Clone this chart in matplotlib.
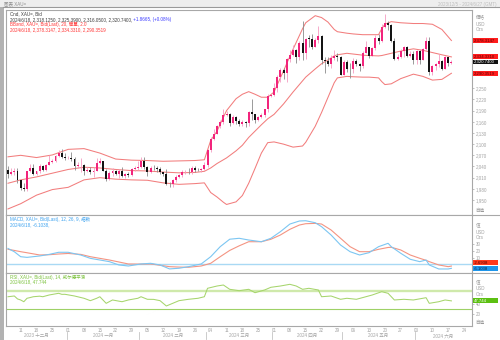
import matplotlib
matplotlib.use("Agg")
import matplotlib.pyplot as plt
import numpy as np
import pandas as pd
from matplotlib.lines import Line2D
from matplotlib.patches import Rectangle
import matplotlib.transforms as mtransforms

plt.rcParams["font.family"] = ["Liberation Sans", "Noto Sans CJK TC", "DejaVu Sans"]

# ---- XAU= daily bars, one per weekday ----
FIRST_DAY, LAST_BAR, LAST_DAY = "2023-12-05", "2024-06-18", "2024-06-27"

open_ = [
    2030, 2019, 2025, 2028,
    2004, 1982, 1979, 2027, 2036,
    2019, 2027, 2040, 2031, 2045,
    2053, 2054, 2067, 2077, 2065,
    2063, 2064, 2060, 2042, 2043,
    2045, 2028, 2030, 2024, 2029,
    2049, 2055, 2028, 2006, 2023,
    2029, 2021, 2029, 2014, 2021,
    2018, 2032, 2037, 2039, 2054,
    2039, 2025, 2035, 2035, 2034,
    2024, 2020, 1993, 1992, 2004,
    2013, 2018, 2024, 2026, 2024,
    2036, 2031, 2030, 2034, 2044,
    2083, 2114, 2128, 2148, 2160,
    2179, 2182, 2158, 2174, 2162,
    2155, 2160, 2157, 2186, 2181,
    2165, 2172, 2178, 2194, 2230,
    2233, 2250, 2280, 2300, 2290,
    2329, 2339, 2352, 2333, 2372,
    2344, 2383, 2383, 2361, 2379,
    2391, 2327, 2322, 2316, 2332,
    2337, 2335, 2286, 2320, 2303,
    2301, 2323, 2314, 2309, 2346,
    2360, 2336, 2358, 2386, 2376,
    2415, 2425, 2420, 2378, 2329,
    2334, 2350, 2361, 2338, 2343,
    2327, 2350, 2327, 2355, 2376,
    2293, 2311, 2316, 2324, 2303,
    2333, 2318.125,
]
high = [
    2040, 2037, 2035, 2036,
    2005, 1995, 2028, 2047, 2047,
    2029, 2047, 2043, 2048, 2071,
    2059, 2070, 2084, 2088, 2075,
    2067, 2079, 2065, 2051, 2064,
    2046, 2038, 2038, 2039, 2062,
    2062, 2056, 2032, 2028, 2035,
    2030, 2033, 2038, 2023, 2026,
    2036, 2042, 2055, 2065, 2065,
    2040, 2040, 2043, 2040, 2038,
    2026, 2032, 1998, 2006, 2016,
    2020, 2031, 2030, 2035, 2041,
    2040, 2037, 2036, 2052, 2088,
    2120, 2142, 2152, 2165, 2195,
    2189, 2184, 2178, 2175, 2167,
    2165, 2163, 2188, 2222, 2181,
    2175, 2185, 2195, 2235, 2236,
    2265, 2285, 2305, 2305, 2331,
    2354, 2365, 2355, 2378, 2431,
    2386, 2392, 2395, 2385, 2417,
    2393, 2335, 2334, 2339, 2353,
    2346, 2337, 2326, 2326, 2319,
    2331, 2328, 2319, 2351, 2378,
    2361, 2360, 2392, 2396, 2422,
    2450, 2430, 2422, 2385, 2342,
    2355, 2364, 2364, 2351, 2349,
    2354, 2353, 2358, 2388, 2387,
    2313, 2317, 2342, 2327, 2336,
    2334, 2325.39,
]
low = [
    2010, 2016, 2017, 1995,
    1976, 1973, 1973, 2026, 2017,
    2016, 2022, 2028, 2029, 2044,
    2050, 2051, 2065, 2062, 2058,
    2060, 2056, 2031, 2035, 2024,
    2017, 2026, 2021, 2013, 2028,
    2047, 2028, 2002, 2005, 2015,
    2017, 2010, 2012, 2009, 2012,
    2015, 2028, 2031, 2037, 2032,
    2015, 2023, 2030, 2025, 2020,
    2015, 1990, 1984, 1986, 1998,
    2010, 2013, 2020, 2020, 2020,
    2025, 2027, 2025, 2030, 2038,
    2078, 2110, 2126, 2144, 2154,
    2175, 2150, 2155, 2154, 2150,
    2148, 2146, 2150, 2165, 2157,
    2163, 2170, 2172, 2187, 2226,
    2228, 2240, 2268, 2276, 2267,
    2320, 2337, 2319, 2325, 2326,
    2330, 2360, 2355, 2360, 2373,
    2315, 2292, 2310, 2305, 2327,
    2324, 2285, 2285, 2294, 2277,
    2291, 2310, 2297, 2305, 2345,
    2332, 2336, 2354, 2370, 2374,
    2413, 2407, 2374, 2326, 2325,
    2332, 2335, 2334, 2333, 2315,
    2315, 2314, 2326, 2354, 2286,
    2287, 2298, 2308, 2300, 2302,
    2311, 2316.05,
]
close = [
    2019, 2025, 2028, 2004,
    1982, 1979, 2027, 2036, 2019,
    2027, 2040, 2031, 2045, 2053,
    2054, 2067, 2077, 2065, 2063,
    2064, 2060, 2042, 2043, 2045,
    2028, 2030, 2024, 2029, 2049,
    2055, 2028, 2006, 2023, 2029,
    2021, 2029, 2014, 2021, 2018,
    2032, 2037, 2039, 2054, 2039,
    2025, 2035, 2035, 2034, 2024,
    2020, 1993, 1992, 2004, 2013,
    2018, 2024, 2026, 2024, 2036,
    2031, 2030, 2034, 2044, 2083,
    2114, 2128, 2148, 2160, 2179,
    2182, 2158, 2174, 2162, 2155,
    2160, 2157, 2186, 2181, 2165,
    2172, 2178, 2194, 2230, 2233,
    2250, 2280, 2300, 2290, 2329,
    2339, 2352, 2333, 2372, 2344,
    2383, 2383, 2361, 2379, 2391,
    2327, 2322, 2316, 2332, 2337,
    2335, 2286, 2320, 2303, 2301,
    2323, 2314, 2309, 2346, 2360,
    2336, 2358, 2386, 2376, 2415,
    2425, 2420, 2378, 2329, 2334,
    2350, 2361, 2338, 2343, 2327,
    2350, 2327, 2355, 2376, 2293,
    2311, 2316, 2324, 2303, 2333,
    2319, 2320.74,
]

# ---- Bollinger bands (20, 2.0) on selected sessions ----
bb_dates = [
    "2023-12-05", "2023-12-11", "2023-12-18", "2023-12-25",
    "2024-01-01", "2024-01-08", "2024-01-15", "2024-01-22", "2024-01-29",
    "2024-02-05", "2024-02-12", "2024-02-19", "2024-02-26", "2024-02-29",
    "2024-03-04", "2024-03-06", "2024-03-08", "2024-03-11", "2024-03-14",
    "2024-03-18", "2024-03-20", "2024-03-22", "2024-03-26", "2024-03-28",
    "2024-04-01", "2024-04-04", "2024-04-09", "2024-04-12", "2024-04-15",
    "2024-04-18", "2024-04-22", "2024-04-24", "2024-04-26", "2024-04-29",
    "2024-05-02", "2024-05-06", "2024-05-09", "2024-05-13", "2024-05-16",
    "2024-05-17", "2024-05-20", "2024-05-22", "2024-05-27", "2024-05-31",
    "2024-06-05", "2024-06-10", "2024-06-13", "2024-06-18",
]
bb_upper = [
    2066, 2070, 2064, 2071,
    2086, 2088, 2076, 2060, 2057,
    2056, 2054, 2055, 2056, 2058,
    2110, 2135, 2172, 2190, 2222, 2234, 2241, 2234, 2226, 2226,
    2240, 2297, 2355, 2410, 2426, 2445, 2440, 2428, 2408, 2402,
    2398, 2396, 2394, 2394, 2394, 2410, 2422, 2429, 2426, 2424,
    2424, 2422, 2408, 2378.3147,
]
bb_mid = [
    1995, 2004, 2012, 2022,
    2032, 2038, 2036, 2032, 2029,
    2028, 2025, 2023, 2024, 2027,
    2036, 2048, 2058, 2063, 2082, 2097, 2118, 2135, 2152, 2168,
    2180, 2208, 2240, 2270, 2280, 2302, 2316, 2326, 2337, 2340,
    2344, 2342, 2339, 2338, 2337, 2338, 2340, 2344, 2350, 2356,
    2352, 2346, 2340, 2334.3310,
]
bb_lower = [
    1926, 1940, 1963, 1978,
    1984, 2004, 2010, 2006, 2004,
    2003, 1996, 1992, 1994, 1996,
    1970, 1958, 1944, 1938, 1945, 1962, 1995, 2035, 2076, 2104,
    2106, 2100, 2092, 2095, 2105, 2148, 2185, 2225, 2265, 2278,
    2282, 2281, 2280, 2280, 2278, 2268, 2260, 2262, 2276, 2288,
    2282, 2272, 2274, 2290.3519,
]

# ---- MACD (12, 26, 9) ----
macd_dates = [
    "2023-12-05", "2023-12-07", "2023-12-11", "2023-12-13", "2023-12-19", "2023-12-22", "2023-12-27",
    "2024-01-01", "2024-01-05", "2024-01-10", "2024-01-15", "2024-01-18", "2024-01-23", "2024-01-26",
    "2024-02-01", "2024-02-06", "2024-02-09", "2024-02-14", "2024-02-19", "2024-02-22", "2024-02-28",
    "2024-03-04", "2024-03-07", "2024-03-12", "2024-03-15", "2024-03-20", "2024-03-26", "2024-03-29",
    "2024-04-03", "2024-04-08", "2024-04-11", "2024-04-15", "2024-04-18", "2024-04-22", "2024-04-25", "2024-04-30",
    "2024-05-03", "2024-05-08", "2024-05-13", "2024-05-16", "2024-05-21", "2024-05-22", "2024-05-27", "2024-05-30",
    "2024-06-04", "2024-06-06", "2024-06-07", "2024-06-12", "2024-06-17", "2024-06-18",
]
macd_line = [
    24, 19, 11.5, 10.5, 12.6, 15, 18.2,
    18.2, 14, 9, 6.5, 4, -1, -2.6,
    0.5, 1.5, -1, -7, -6, -3.6, 0.5,
    11.5, 26.7, 38, 39.4, 36.8, 34.2, 39.4,
    49.4, 61, 65.6, 66, 63, 57, 44.4, 29.2,
    19.1, 14.1, 17.6, 26.7, 31.8, 26.7, 16.7, 7.6,
    4, 6.5, -1, -7.1, -7.1, -6.1038,
]
macd_signal = [
    22.7, 21, 19.1, 17.5, 14.1, 14.5, 15.6,
    16.4, 15, 11.5, 9, 6.5, 3.5, 0.5,
    0.3, 0.5, -1.5, -3.6, -4.2, -4.5, -2.6,
    1.5, 11.5, 21, 28, 34.2, 34.2, 37.9,
    44.4, 53, 59.5, 61.5, 62, 61, 52, 39.4,
    26.7, 19.1, 19.1, 22.7, 25.5, 25.8, 21.7, 14.1,
    9.1, 6, 4, -1, -3.6, -2.6938,
]

# ---- RSI (14, Wilder) ----
rsi_dates = [
    "2023-12-05", "2023-12-07", "2023-12-08", "2023-12-11", "2023-12-12", "2023-12-13", "2023-12-14",
    "2023-12-15", "2023-12-19", "2023-12-20", "2023-12-22", "2023-12-27", "2023-12-28", "2023-12-29",
    "2024-01-03", "2024-01-08", "2024-01-10", "2024-01-12", "2024-01-15", "2024-01-17", "2024-01-19",
    "2024-01-24", "2024-01-26", "2024-01-31",
    "2024-02-01", "2024-02-05", "2024-02-07", "2024-02-09", "2024-02-13", "2024-02-15", "2024-02-19",
    "2024-02-22", "2024-02-27", "2024-02-29",
    "2024-03-01", "2024-03-06", "2024-03-08", "2024-03-12", "2024-03-15", "2024-03-20", "2024-03-22",
    "2024-03-27", "2024-03-29",
    "2024-04-03", "2024-04-08", "2024-04-10", "2024-04-12", "2024-04-16", "2024-04-19", "2024-04-22",
    "2024-04-25", "2024-04-30",
    "2024-05-02", "2024-05-07", "2024-05-10", "2024-05-14", "2024-05-17", "2024-05-21", "2024-05-23",
    "2024-05-28", "2024-05-31",
    "2024-06-06", "2024-06-07", "2024-06-12", "2024-06-14", "2024-06-18",
]
rsi_vals = [
    56.8, 58.4, 52, 49.7, 45.9, 53.4, 55, 56.8, 58, 56.8, 60.6, 64.3, 62, 62.1,
    58.4, 53.4, 48.2, 53.4, 56.8, 42.4, 49.7, 45.9, 49.7, 53.4,
    56.8, 51.2, 51, 48.2, 36.6, 42.4, 48.2, 51.2, 53.4, 56.8,
    75.2, 80.2, 82.4, 73, 70, 73, 65.6, 71.5, 77.4,
    80.2, 83.9, 80.2, 73, 75.2, 71.5, 56.8, 58.4, 51.2,
    53.4, 51.2, 56.8, 60.6, 67.8, 64.3, 49.7, 51.2, 49.7,
    54.7, 42.4, 45.9, 49.7, 47.744,
]
RSI_BANDS = (70, 30)
PRICE_TICKS = list(range(1950, 2371, 30))
MACD_TICKS = [10, 20, 30]
RSI_TICKS = [20, 40]
MONTHS_ZH = ["一月", "二月", "三月", "四月", "五月", "六月",
             "七月", "八月", "九月", "十月", "十一月", "十二月"]

# ---- colours ----
UP, UP_WICK = "#f2247c", "#f59cc1"
DOWN, DOWN_WICK = "#141414", "#8a8a8a"
BAND = "#f27d7d"
MACD_C, SIG_C, ZERO_C = "#7cc6f2", "#f49482", "#a9d9f4"
RSI_C, RSI_HI, RSI_LO = "#a6d56c", "#cfe9ab", "#9ed166"
FRAME = "#a8a8a8"
AXTXT = "#a3a3a3"
FS = 3.25

W, H = 500, 340


def fx(x):
    return x / W


def fy(y):
    return 1 - y / H


sessions = pd.bdate_range(FIRST_DAY, LAST_DAY)
bar_days = pd.bdate_range(FIRST_DAY, LAST_BAR)


def pos(dates):
    return sessions.get_indexer(pd.to_datetime(dates))


fig = plt.figure(figsize=(W / 100, H / 100), dpi=100)
fig.patch.set_facecolor("white")

L, R = 6, 472
ax_p = fig.add_axes([fx(L), fy(215), fx(R) - fx(L), fy(10) - fy(215)])
ax_m = fig.add_axes([fx(L), fy(273), fx(R) - fx(L), fy(215) - fy(273)])
ax_r = fig.add_axes([fx(L), fy(326), fx(R) - fx(L), fy(273) - fy(326)])

XLIM = (-0.63, 146.5)
for ax in (ax_p, ax_m, ax_r):
    ax.set_xlim(*XLIM)
    ax.set_facecolor("white")
    for s in ax.spines.values():
        s.set_color(FRAME)
        s.set_linewidth(0.8)
    ax.yaxis.tick_right()
    ax.tick_params(axis="y", length=1.6, width=0.5, colors=FRAME,
                   labelcolor=AXTXT, labelsize=FS, pad=1.2)
    ax.tick_params(axis="x", length=0)
    ax.set_xticks([])

ax_p.set_ylim(1909.7, 2460.3)
ax_m.set_ylim(-13.2, 74.7)
ax_r.set_ylim(-7.1, 108.6)


def ypix(ax, v):
    return H - ax.transData.transform((0, v))[1]


# ---- price panel ----
bx = pos(bb_dates)
for series in (bb_upper, bb_mid, bb_lower):
    ax_p.plot(bx, series, color=BAND, lw=0.75, zorder=2)

xi = pos(bar_days)
o, h, lo, c = map(np.asarray, (open_, high, low, close))
up = c > o
ax_p.vlines(xi[up], lo[up], h[up], color=UP_WICK, lw=0.6, zorder=3)
ax_p.vlines(xi[~up], lo[~up], h[~up], color=DOWN_WICK, lw=0.6, zorder=3)
body_lo = np.minimum(o, c)
body_h = np.maximum(np.abs(c - o), 0.9)
ax_p.bar(xi[up], body_h[up], bottom=body_lo[up], width=0.62, color=UP, lw=0, zorder=4)
ax_p.bar(xi[~up], body_h[~up], bottom=body_lo[~up], width=0.62, color=DOWN, lw=0, zorder=4)

# price scale labels that would sit under the value tags are left out
tag_rows = [ypix(ax_p, v) for v in (bb_upper[-1], bb_mid[-1], close[-1], bb_lower[-1])]
pticks = [v for v in PRICE_TICKS if min(abs(ypix(ax_p, v) - r) for r in tag_rows) > 4.5]
ax_p.set_yticks(pticks)
ax_p.set_yticklabels([f"{v:,}" for v in pticks])

# ---- MACD panel ----
ax_m.axhline(0, color=ZERO_C, lw=1.0, zorder=1)
mx = pos(macd_dates)
ax_m.plot(mx, macd_signal, color=SIG_C, lw=0.8, zorder=2)
ax_m.plot(mx, macd_line, color=MACD_C, lw=0.8, zorder=3)
ax_m.set_yticks(MACD_TICKS)
ax_m.set_yticklabels([str(v) for v in MACD_TICKS])

# ---- RSI panel ----
ax_r.axhline(RSI_BANDS[0], color=RSI_HI, lw=1.7, zorder=1)
ax_r.axhline(RSI_BANDS[1], color=RSI_LO, lw=0.8, zorder=1)
ax_r.plot(pos(rsi_dates), rsi_vals, color=RSI_C, lw=0.75, zorder=2)
ax_r.set_yticks(RSI_TICKS)
ax_r.set_yticklabels([str(v) for v in RSI_TICKS])

# weekly day labels + month strip
mondays = [d for d in sessions if d.weekday() == 0]
ax_r.set_xticks(pos(mondays))
ax_r.set_xticklabels([f"{d.day:02d}" for d in mondays])
ax_r.tick_params(axis="x", length=0, labelsize=FS, labelcolor=AXTXT, pad=1.6)

strip = mtransforms.blended_transform_factory(ax_r.transData, fig.transFigure)
month_keys = sessions.to_period("M")
for k, per in enumerate(month_keys.unique()):
    idx = np.where(month_keys == per)[0]
    a = max(idx[0] - 0.5, XLIM[0])
    b = min(idx[-1] + 0.5, XLIM[1])
    fig.text((a + b) / 2, fy(335.5), f"{per.year} {MONTHS_ZH[per.month - 1]}",
             transform=strip, ha="center", va="center", fontsize=FS, color=AXTXT)
    if k > 0:
        fig.add_artist(Line2D([idx[0] - 0.5] * 2, [fy(331.5), fy(338.5)],
                              transform=strip, color="#c4c4c4", lw=0.6))

# ---- window chrome ----
fig.add_artist(Rectangle((0, fy(7)), 1, 7 / H, transform=fig.transFigure,
                         fc="#eeeeee", ec="none", zorder=0))
fig.add_artist(Line2D([fx(3), 1], [fy(7.3)] * 2, transform=fig.transFigure,
                      color="#9a9a9a", lw=0.8))
fig.add_artist(Rectangle((0, 0), fx(3.5), fy(7), transform=fig.transFigure,
                         fc="#b2b2b2", ec="none", zorder=0))
for yy in (215, 273):
    fig.add_artist(Line2D([fx(R), 1], [fy(yy)] * 2, transform=fig.transFigure,
                          color=FRAME, lw=0.8))
fig.text(fx(4), fy(3.6), "图表 XAU=", fontsize=FS, color="#8e8e8e", va="center")
fig.text(fx(497), fy(4.6), "2023/12/5 - 2024/6/27 (GMT)", fontsize=FS,
         color="#bdbdbd", va="center", ha="right")


def put(x, y, s, color, size=FS, **kw):
    return fig.text(fx(x), fy(y), s, fontsize=size, color=color, va="center", **kw)


def put_after(prev, s, color):
    return ax_p.annotate(s, xy=(1, 0), xycoords=prev, va="bottom", ha="left",
                         fontsize=FS, color=color, annotation_clip=False)


# legend text in each panel
put(10, 14.2, "Cnd, XAU=, Bid", "#3c3c3c")
t = put(10, 19.3, "2024/6/18, 2,318.1250, 2,325.3900, 2,316.0500, 2,320.7400,", "#3c3c3c")
put_after(t, " +1.8665, (+0.08%)", "#3b3bff")
put(10, 24.6, "BBand, XAU=, Bid(Last), 20, 簡單, 2.0", "#ff3434")
put(10, 29.8, "2024/6/18, 2,378.3147, 2,334.3310, 2,290.3519", "#ff3434")

put(10, 219.6, "MACD, XAU=, Bid(Last), 12, 26, 9, 指数", "#3da2ef")
t = put(10, 224.8, "2024/6/18, -6.1038,", "#3da2ef")
put_after(t, " -2.6938", "#f0624f")

put(10, 277.0, "RSI, XAU=, Bid(Last), 14, 威尔德平滑", "#7cc23e")
put(10, 282.0, "2024/6/18, 47.744", "#7cc23e")

# right-hand unit captions
for (y0, head) in ((17, "價格"), (225, "值"), (281.7, "值")):
    put(475.5, y0, head, AXTXT)
    put(475.5, y0 + 7.3, "USD", AXTXT)
    put(475.5, y0 + 12.8, "Ozs", AXTXT)
put(475.5, 210.6, "自适", "#9a9a9a")
put(475.5, 322.6, "自适", "#9a9a9a")


def tag(y, s, fc, tc):
    fig.add_artist(Rectangle((fx(472.6), fy(y + 2.45)), fx(25.4), 4.9 / H,
                             transform=fig.transFigure, fc=fc, ec="none", zorder=5))
    t = put(474, y, s, tc, size=3.1)
    t.set_zorder(6)


tag(tag_rows[0], f"{bb_upper[-1]:,.4f}", "#ff1c1c", "#5a0000")
tag(tag_rows[1], f"{bb_mid[-1]:,.4f}", "#ff1c1c", "#5a0000")
tag(tag_rows[2], f"{close[-1]:,.4f}", "#111111", "white")
tag(tag_rows[3], f"{bb_lower[-1]:,.4f}", "#ff1c1c", "#5a0000")

ys = ypix(ax_m, macd_signal[-1])
ym = ypix(ax_m, macd_line[-1])
tag(min(ys, ym - 5.4), f"{macd_signal[-1]:.4f}", "#ff3a1c", "#4a0000")
tag(ym + 0.4, f"{macd_line[-1]:.4f}", "#1f96ea", "#002a4d")

tag(ypix(ax_r, rsi_vals[-1]), f"{rsi_vals[-1]:.3f}", "#5cc012", "white")

fig.savefig("out.png", dpi=100, facecolor="white")
